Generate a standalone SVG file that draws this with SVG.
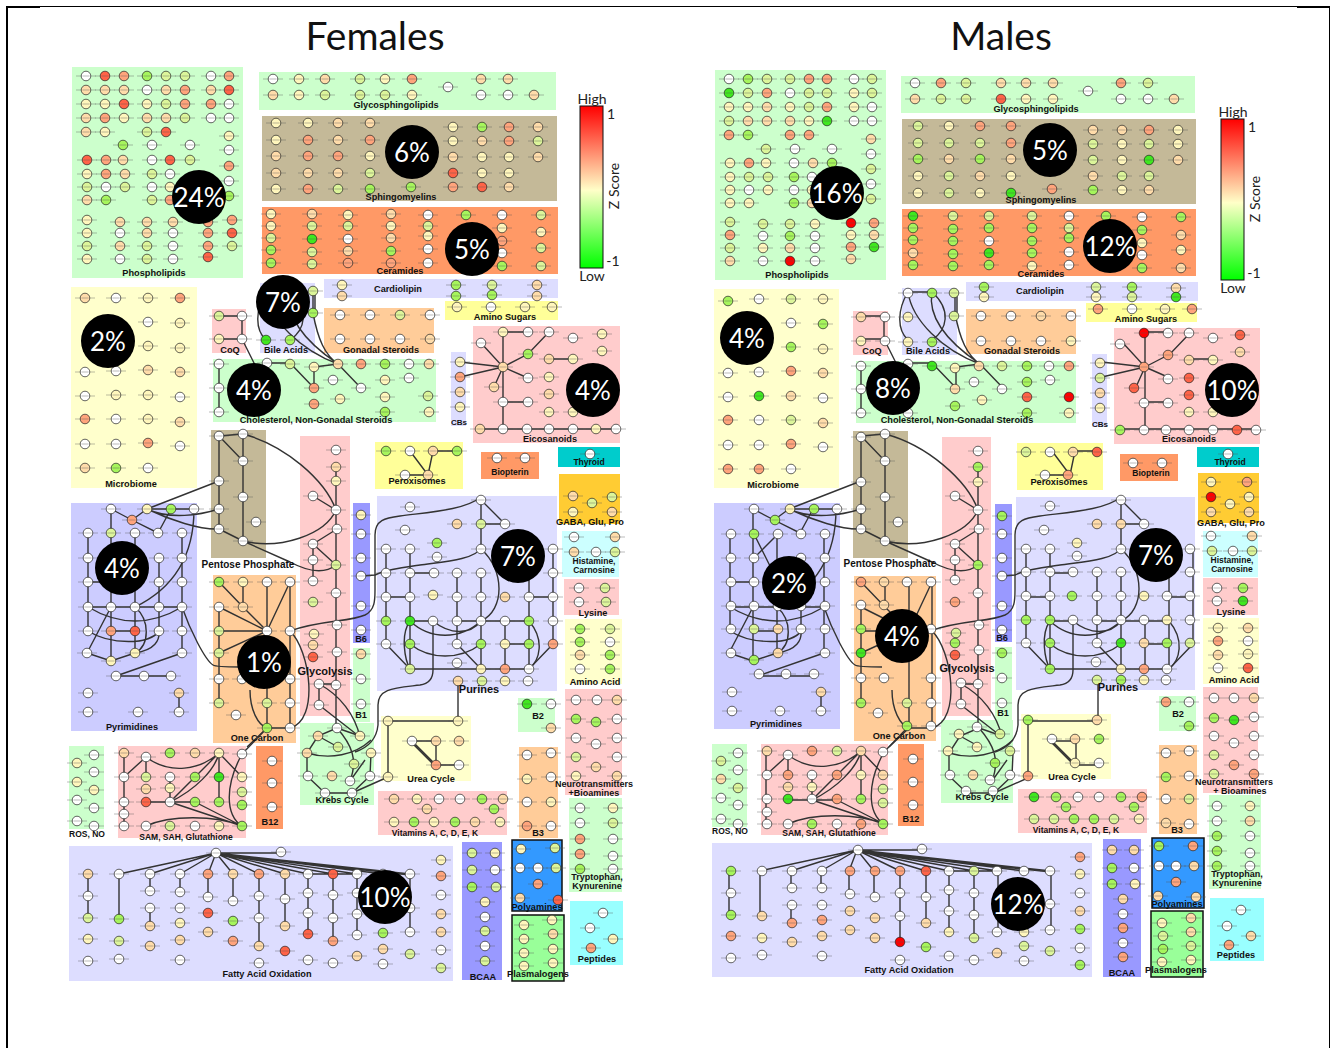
<svg xmlns="http://www.w3.org/2000/svg" width="1330" height="1048" viewBox="0 0 1330 1048">
<style>
text{font-family:"Liberation Sans",Arial,sans-serif;font-weight:bold;font-size:9.2px;fill:#111;text-anchor:middle}
.big{font-family:Lato,"Open Sans",sans-serif;font-weight:normal;font-size:39px}
.pc{font-family:Lato,"Open Sans",sans-serif;font-weight:normal;font-size:26px;fill:#fff}
.lg{font-family:Lato,"Open Sans",sans-serif;font-weight:normal;font-size:14px;fill:#222}
.m{font-size:11px}
.a{fill:#cfc}.b{fill:#c4b998}.c{fill:#f96}.d{fill:#ffc}.e{fill:#ddf}.f{fill:#ccf}.h{fill:#fcc}.i{fill:#fc9}.j{fill:#ff9}.k{fill:#99f}.l{fill:#0cc}.q{fill:#fc3}.s{fill:#cff}.t{fill:#9ff}
.u{fill:#39f;stroke:#111;stroke-width:1.5}.v{fill:#9f9;stroke:#111;stroke-width:1.5}
.w{fill:#fff}.y{fill:#fff6bc}.o{fill:#ffdcaa}.p{fill:#ffa47c}.r{fill:#ff6347}.R{fill:#f00}.g{fill:#dcf59a}.G{fill:#a6f55c}.L{fill:#3fe81f}
#n circle{stroke:#222;stroke-width:.7}
#n path{stroke:#555;stroke-width:.8;fill:none;opacity:.5}
.cn{fill:none;stroke:#333;stroke-width:1.4}
</style>
<defs>
<g id="n"><path d="M-10 0H10"/><circle r="4.8"/><path d="M-3.5 0H3.5"/></g>
<linearGradient id="zs" x1="0" y1="0" x2="0" y2="1"><stop offset="0" stop-color="#f00"/><stop offset=".52" stop-color="#ffffc8"/><stop offset="1" stop-color="#0f0"/></linearGradient>
</defs>
<rect width="1330" height="1048" fill="#fff"/>
<g id="frame" fill="#000"><rect x="6" y="6" width="2" height="1042"/><rect x="6" y="6" width="34" height="2"/><rect x="40" y="6" width="1257" height="1"/><rect x="1297" y="6" width="33" height="2"/><rect x="1329" y="6" width="1" height="1042"/></g>
<text class="big" x="375" y="50">Females</text>
<text class="big" x="1001" y="50">Males</text>

<g id="panels-f">
<rect class="a" x="72" y="67" width="171" height="211"/><rect class="a" x="259" y="72" width="297" height="38"/><rect class="b" x="262" y="116" width="295" height="85"/><rect class="c" x="262" y="207" width="296" height="67"/><rect class="e" x="324" y="279" width="234" height="19"/><rect class="j" x="445" y="301" width="113" height="19"/><rect class="e" x="260" y="283" width="55" height="70"/><rect class="i" x="324" y="308" width="110" height="45"/><rect class="h" x="212" y="309" width="34" height="44"/><rect class="a" x="213" y="359" width="223" height="63"/><rect class="e" x="451" y="352" width="15" height="74"/><rect class="h" x="473" y="326" width="147" height="117"/><rect class="d" x="71" y="287" width="126" height="201"/><rect class="b" x="211" y="430" width="55" height="128"/><rect class="h" x="300" y="436" width="50" height="280"/><rect class="j" x="375" y="442" width="88" height="47"/><rect class="c" x="481" y="452" width="58" height="27"/><rect class="l" x="558" y="447" width="62" height="20"/><rect class="q" x="559" y="474" width="61" height="50"/><rect class="s" x="562" y="531" width="57" height="46"/><rect class="h" x="564" y="579" width="55" height="36"/><rect class="d" x="565" y="619" width="57" height="65"/><rect class="h" x="565" y="689" width="57" height="106"/><rect class="f" x="71" y="503" width="126" height="228"/><rect class="k" x="353" y="503" width="17" height="140"/><rect class="a" x="353" y="648" width="17" height="74"/><rect class="i" x="213" y="575" width="83" height="168"/><rect class="e" x="377" y="496" width="180" height="195"/><rect class="a" x="518" y="698" width="37" height="34"/><rect class="i" x="519" y="747" width="39" height="91"/><rect class="d" x="381" y="716" width="90" height="65"/><rect class="a" x="300" y="723" width="74" height="82"/><rect class="h" x="378" y="791" width="129" height="44"/><rect class="a" x="69" y="746" width="35" height="83"/><rect class="h" x="118" y="746" width="128" height="92"/><rect class="c" x="256" y="746" width="27" height="83"/><rect class="a" x="569" y="798" width="53" height="94"/><rect class="e" x="69" y="846" width="384" height="135"/><rect class="k" x="462" y="842" width="40" height="138"/><rect class="u" x="512" y="840" width="50" height="71"/><rect class="v" x="512" y="915" width="52" height="66"/><rect class="t" x="570" y="901" width="53" height="64"/>
</g>
<g id="panels-m">
<rect class="a" x="715" y="70" width="171" height="210"/><rect class="a" x="901" y="76" width="294" height="37"/><rect class="b" x="902" y="119" width="294" height="85"/><rect class="c" x="902" y="209" width="294" height="67"/><rect class="e" x="966" y="282" width="232" height="19"/><rect class="j" x="1086" y="303" width="111" height="19"/><rect class="e" x="902" y="288" width="55" height="67"/><rect class="i" x="966" y="309" width="110" height="45"/><rect class="h" x="853" y="311" width="35" height="44"/><rect class="a" x="856" y="361" width="220" height="62"/><rect class="e" x="1092" y="354" width="15" height="73"/><rect class="h" x="1114" y="328" width="146" height="116"/><rect class="d" x="714" y="289" width="125" height="199"/><rect class="b" x="853" y="431" width="55" height="127"/><rect class="h" x="942" y="437" width="49" height="279"/><rect class="j" x="1017" y="443" width="86" height="47"/><rect class="c" x="1120" y="454" width="58" height="27"/><rect class="l" x="1197" y="447" width="62" height="20"/><rect class="q" x="1198" y="473" width="61" height="50"/><rect class="s" x="1203" y="531" width="55" height="46"/><rect class="h" x="1203" y="578" width="55" height="37"/><rect class="d" x="1203" y="618" width="56" height="66"/><rect class="h" x="1203" y="687" width="55" height="106"/><rect class="f" x="714" y="503" width="126" height="226"/><rect class="k" x="995" y="504" width="17" height="138"/><rect class="a" x="995" y="647" width="17" height="75"/><rect class="i" x="854" y="576" width="82" height="165"/><rect class="e" x="1016" y="497" width="179" height="193"/><rect class="a" x="1159" y="696" width="37" height="35"/><rect class="i" x="1159" y="745" width="38" height="89"/><rect class="d" x="1021" y="714" width="90" height="65"/><rect class="a" x="941" y="720" width="72" height="83"/><rect class="h" x="1018" y="789" width="129" height="44"/><rect class="a" x="712" y="744" width="35" height="83"/><rect class="h" x="761" y="744" width="127" height="91"/><rect class="c" x="898" y="744" width="26" height="82"/><rect class="a" x="1209" y="795" width="52" height="94"/><rect class="e" x="712" y="843" width="380" height="134"/><rect class="k" x="1103" y="839" width="38" height="138"/><rect class="u" x="1152" y="838" width="52" height="70"/><rect class="v" x="1151" y="911" width="52" height="66"/><rect class="t" x="1210" y="898" width="54" height="63"/>
</g>

<g id="connectors">
<g id="cA" class="cn">
<path d="M219 436L243 434M219 436V529M219 436L243 461M243 434V541M219 529L243 541"/>
<path d="M243 434C285 445 325 480 336 510M243 541C280 550 325 535 336 510M243 541L290 562Q320 578 336 565"/>
<path d="M336 467V685M313 496L336 510M337 529L313 544M313 544V581M313 544L336 565M319 684H336M319 684V705M336 685V728M319 684C340 695 355 715 360 737M319 705L360 737"/>
<path d="M219 582L243 607M243 582V607M219 607L267 631M243 607L267 631M267 582V728M290 582L267 631M290 582V728M219 631H267M219 653L267 631M219 607V703M267 728H290M290 631C310 650 320 720 290 728M250 690C250 710 258 725 267 728M267 728L247 747"/>
<path d="M337 728L318 736L307 753V776L325 793H352L370 776L371 753M350 781L365 760M337 728L360 736M318 736L338 747M307 753C330 760 355 755 371 740M337 728C352 745 358 760 350 781M352 793L388 777"/>
<path d="M111 509V533M111 509L132 520L158 533M147 509L132 520M147 509H194M171 509L158 533M88 533V631M111 533V661M135 533V653M159 558V631M182 533V653M88 582H111M88 607H182M111 631H135M87 653L111 607M87 653L111 661L135 653M116 676H171M116 676L182 653M179 693V712"/>
<path d="M88 607Q135 635 182 607M88 631C110 645 150 645 159 631M135 607C150 620 150 645 135 653M135 653C155 650 160 640 159 631M135 607C170 590 194 560 194 509M147 509L219 481M147 509C170 520 200 515 219 509M147 509C170 520 200 530 219 529M182 607C190 630 205 660 213 665Q216 667 240 667"/>
<path d="M266 292H290M266 292C255 310 255 330 266 340M290 292C310 310 305 330 290 340M313 291V313M315 291V313M266 292C270 320 300 350 338 364M290 292C285 320 310 345 338 364M313 313C318 340 325 355 338 364"/>
<path d="M219 316H242V339H219M242 339L255 365M219 364V412M267 363H290L314 388M314 367L338 364M314 367V388M338 364L361 388"/>
<path d="M503 332V429M503 332H528M481 343L503 367L528 354L549 332M503 367L528 378M503 367L494 387M460 362L503 367M460 377L503 367M549 359H573M503 402H528M480 429H616"/>
<path d="M410 451L428 475M433 451L428 475M405 475H428M433 451H457"/>
</g>
<g id="cP" class="cn">
<path d="M481 500V549M481 500L505 524M481 524H505M386 549V644M410 549V669M410 573H434M457 573V644M481 573V669M505 621V669M529 573V669M553 549V644M386 597H410M529 597H553M410 621H433M457 621H529M505 644H529M386 644L410 669M410 669H529M529 669L553 644M457 644L481 669"/>
<path d="M410 621C400 635 405 660 410 669M529 621C545 640 540 660 529 669M410 644C430 660 460 660 481 644M410 621C430 640 460 640 481 621M433 621C450 635 470 635 481 621M481 549C505 570 505 610 481 621"/>
<path d="M458 681V721M388 721H458M388 721V777M412 741H436M412 741L436 765M412 743L434 765M436 741V765M436 765H459"/>
<path d="M290 631C320 620 350 622 365 615C375 610 375 600 375 590V535C375 520 385 518 400 516C430 512 465 510 481 497"/>
<path d="M481 548C475 560 440 562 420 565C400 568 385 570 375 575L361 576"/>
<path d="M433 622V670Q433 683 420 685C395 688 378 688 378 705V725Q376 745 355 752"/>
</g>
<g id="cS" class="cn">
<path d="M124 753V826M124 777L146 757V777M146 757C170 775 200 770 219 753L170 802M219 753C215 770 195 790 170 802M219 753V802M219 753L242 777M195 777L170 802M170 777V802M146 802H195M170 802L242 826M195 802L242 826M146 826C170 815 215 815 242 826M242 754C225 785 225 815 242 826M242 754L267 728"/>
</g>
<g id="cF" class="cn">
<path d="M216 853H281M216 853L119 874M216 853L150 874M216 853L180 874M216 853L208 874M216 853L233 874M216 853L259 874M216 853L285 874M216 853L308 874M216 853L333 874M216 853L357 874M216 853L383 874M216 853L410 874M216 854L410 875M88 874V918M119 874V919M150 874V891M150 908V926M180 874V892M208 874V897M233 874V901M259 874V946M285 874V926M308 874V934M333 874V941M308 874H357M357 874V935M410 874V932"/>
</g>
<use href="#cA" x="642"/><use href="#cP" x="640"/><use href="#cS" x="642" y="-2"/><use href="#cF" x="641" y="-3"/>
<path class="cn" d="M754 534L778 582M778 534L754 558"/>
</g>

<g id="f-phospholipids">
<use href="#n" x="86" y="76" class="w"/><use href="#n" x="105" y="76" class="r"/><use href="#n" x="124" y="76" class="p"/><use href="#n" x="147" y="76" class="G"/><use href="#n" x="166" y="76" class="g"/><use href="#n" x="185" y="76" class="g"/><use href="#n" x="211" y="76" class="w"/><use href="#n" x="229" y="76" class="p"/>
<use href="#n" x="86" y="90" class="o"/><use href="#n" x="105" y="90" class="o"/><use href="#n" x="124" y="90" class="o"/><use href="#n" x="147" y="90" class="w"/><use href="#n" x="166" y="90" class="o"/><use href="#n" x="185" y="90" class="p"/><use href="#n" x="211" y="90" class="o"/><use href="#n" x="229" y="90" class="r"/>
<use href="#n" x="86" y="104" class="y"/><use href="#n" x="105" y="104" class="y"/><use href="#n" x="124" y="104" class="r"/><use href="#n" x="147" y="104" class="y"/><use href="#n" x="166" y="104" class="g"/><use href="#n" x="185" y="104" class="p"/><use href="#n" x="211" y="104" class="p"/><use href="#n" x="229" y="104" class="w"/>
<use href="#n" x="86" y="118" class="o"/><use href="#n" x="105" y="118" class="p"/><use href="#n" x="124" y="118" class="y"/><use href="#n" x="147" y="118" class="o"/><use href="#n" x="166" y="118" class="o"/><use href="#n" x="185" y="118" class="g"/><use href="#n" x="211" y="118" class="w"/><use href="#n" x="229" y="118" class="w"/>
<use href="#n" x="86" y="132" class="o"/><use href="#n" x="105" y="132" class="y"/><use href="#n" x="147" y="132" class="g"/><use href="#n" x="166" y="132" class="r"/>
<use href="#n" x="123" y="145" class="G"/><use href="#n" x="152" y="145" class="w"/><use href="#n" x="190" y="145" class="w"/><use href="#n" x="229" y="136" class="y"/><use href="#n" x="229" y="150" class="w"/><use href="#n" x="229" y="166" class="p"/><use href="#n" x="229" y="181" class="w"/><use href="#n" x="229" y="196" class="G"/>
<use href="#n" x="87" y="160" class="r"/><use href="#n" x="106" y="160" class="p"/><use href="#n" x="123" y="160" class="o"/><use href="#n" x="152" y="160" class="w"/><use href="#n" x="170" y="160" class="r"/><use href="#n" x="190" y="160" class="g"/>
<use href="#n" x="87" y="174" class="y"/><use href="#n" x="106" y="174" class="p"/><use href="#n" x="125" y="174" class="o"/><use href="#n" x="152" y="174" class="g"/><use href="#n" x="170" y="174" class="w"/>
<use href="#n" x="87" y="187" class="g"/><use href="#n" x="106" y="187" class="w"/><use href="#n" x="125" y="187" class="g"/><use href="#n" x="152" y="187" class="w"/><use href="#n" x="170" y="187" class="y"/>
<use href="#n" x="87" y="200" class="o"/><use href="#n" x="106" y="200" class="G"/><use href="#n" x="152" y="200" class="g"/><use href="#n" x="170" y="200" class="p"/>
<use href="#n" x="87" y="220" class="y"/><use href="#n" x="120" y="222" class="o"/><use href="#n" x="147" y="222" class="o"/><use href="#n" x="173" y="222" class="o"/><use href="#n" x="208" y="222" class="p"/><use href="#n" x="232" y="220" class="p"/>
<use href="#n" x="87" y="233" class="y"/><use href="#n" x="120" y="233" class="w"/><use href="#n" x="147" y="233" class="o"/><use href="#n" x="173" y="233" class="w"/><use href="#n" x="208" y="233" class="p"/><use href="#n" x="232" y="233" class="r"/>
<use href="#n" x="87" y="246" class="g"/><use href="#n" x="120" y="246" class="o"/><use href="#n" x="147" y="246" class="g"/><use href="#n" x="173" y="246" class="w"/><use href="#n" x="208" y="246" class="p"/><use href="#n" x="232" y="246" class="g"/>
<use href="#n" x="87" y="259" class="y"/><use href="#n" x="120" y="259" class="w"/><use href="#n" x="147" y="259" class="g"/><use href="#n" x="173" y="259" class="w"/><use href="#n" x="208" y="257" class="r"/>
<text x="154" y="276">Phospholipids</text>
</g>
<g id="f-glyco">
<use href="#n" x="273" y="79" class="w"/><use href="#n" x="299" y="79" class="y"/><use href="#n" x="325" y="79" class="o"/><use href="#n" x="360" y="79" class="g"/><use href="#n" x="385" y="79" class="y"/><use href="#n" x="412" y="79" class="p"/><use href="#n" x="448" y="87" class="w"/><use href="#n" x="481" y="79" class="o"/><use href="#n" x="508" y="79" class="o"/>
<use href="#n" x="273" y="95" class="o"/><use href="#n" x="299" y="95" class="y"/><use href="#n" x="325" y="95" class="g"/><use href="#n" x="360" y="95" class="g"/><use href="#n" x="385" y="95" class="g"/><use href="#n" x="412" y="95" class="y"/><use href="#n" x="481" y="95" class="w"/><use href="#n" x="508" y="95" class="w"/><use href="#n" x="534" y="95" class="o"/>
<text x="396" y="108">Glycosphingolipids</text>
</g>
<g id="f-sphingo">
<use href="#n" x="276" y="123" class="y"/><use href="#n" x="308" y="123" class="y"/><use href="#n" x="338" y="123" class="o"/><use href="#n" x="370" y="123" class="o"/><use href="#n" x="276" y="140" class="y"/><use href="#n" x="308" y="140" class="p"/><use href="#n" x="338" y="140" class="o"/><use href="#n" x="370" y="140" class="p"/><use href="#n" x="276" y="156" class="o"/><use href="#n" x="308" y="156" class="p"/><use href="#n" x="338" y="156" class="p"/><use href="#n" x="370" y="156" class="y"/><use href="#n" x="276" y="173" class="o"/><use href="#n" x="308" y="173" class="o"/><use href="#n" x="338" y="173" class="o"/><use href="#n" x="370" y="173" class="g"/><use href="#n" x="276" y="189" class="y"/><use href="#n" x="308" y="189" class="p"/><use href="#n" x="338" y="189" class="g"/><use href="#n" x="370" y="189" class="G"/><use href="#n" x="411" y="187" class="G"/>
<use href="#n" x="453" y="127" class="y"/><use href="#n" x="482" y="127" class="G"/><use href="#n" x="509" y="127" class="p"/><use href="#n" x="538" y="127" class="o"/><use href="#n" x="453" y="141" class="y"/><use href="#n" x="482" y="141" class="o"/><use href="#n" x="509" y="141" class="p"/><use href="#n" x="538" y="141" class="g"/><use href="#n" x="453" y="157" class="o"/><use href="#n" x="482" y="157" class="y"/><use href="#n" x="509" y="157" class="y"/><use href="#n" x="538" y="157" class="o"/><use href="#n" x="453" y="173" class="r"/><use href="#n" x="482" y="173" class="y"/><use href="#n" x="509" y="173" class="y"/><use href="#n" x="453" y="187" class="p"/><use href="#n" x="482" y="187" class="r"/><use href="#n" x="509" y="187" class="o"/>
<text x="401" y="200">Sphingomyelins</text>
</g>
<g id="f-ceramides">
<use href="#n" x="271" y="214" class="y"/><use href="#n" x="271" y="226" class="y"/><use href="#n" x="271" y="238" class="g"/><use href="#n" x="271" y="250" class="G"/><use href="#n" x="271" y="263" class="G"/><use href="#n" x="312" y="214" class="o"/><use href="#n" x="312" y="226" class="g"/><use href="#n" x="312" y="239" class="L"/><use href="#n" x="312" y="252" class="g"/><use href="#n" x="312" y="264" class="g"/><use href="#n" x="348" y="215" class="y"/><use href="#n" x="348" y="226" class="g"/><use href="#n" x="348" y="239" class="w"/><use href="#n" x="348" y="251" class="o"/><use href="#n" x="348" y="263" class="p"/><use href="#n" x="391" y="214" class="o"/><use href="#n" x="391" y="226" class="y"/><use href="#n" x="391" y="238" class="o"/><use href="#n" x="391" y="251" class="G"/><use href="#n" x="391" y="263" class="p"/><use href="#n" x="428" y="215" class="w"/><use href="#n" x="428" y="226" class="g"/><use href="#n" x="428" y="236" class="y"/><use href="#n" x="428" y="249" class="w"/><use href="#n" x="428" y="263" class="w"/><use href="#n" x="466" y="215" class="G"/><use href="#n" x="502" y="215" class="w"/><use href="#n" x="502" y="228" class="y"/><use href="#n" x="502" y="241" class="p"/><use href="#n" x="502" y="253" class="w"/><use href="#n" x="502" y="266" class="G"/><use href="#n" x="541" y="215" class="g"/><use href="#n" x="541" y="232" class="y"/><use href="#n" x="541" y="248" class="g"/><use href="#n" x="541" y="266" class="g"/>
<text x="400" y="274">Ceramides</text>
</g>
<g id="f-microbiome">
<use href="#n" x="85" y="298" class="o"/><use href="#n" x="116" y="298" class="w"/><use href="#n" x="148" y="298" class="y"/><use href="#n" x="180" y="298" class="p"/><use href="#n" x="148" y="322" class="w"/><use href="#n" x="180" y="323" class="y"/><use href="#n" x="148" y="346" class="y"/><use href="#n" x="180" y="348" class="y"/><use href="#n" x="85" y="372" class="w"/><use href="#n" x="116" y="371" class="w"/><use href="#n" x="148" y="370" class="o"/><use href="#n" x="180" y="372" class="o"/><use href="#n" x="85" y="396" class="w"/><use href="#n" x="116" y="395" class="y"/><use href="#n" x="148" y="395" class="y"/><use href="#n" x="180" y="397" class="w"/><use href="#n" x="85" y="419" class="p"/><use href="#n" x="116" y="419" class="w"/><use href="#n" x="148" y="419" class="y"/><use href="#n" x="180" y="422" class="o"/><use href="#n" x="85" y="444" class="w"/><use href="#n" x="116" y="444" class="w"/><use href="#n" x="148" y="443" class="p"/><use href="#n" x="180" y="446" class="w"/><use href="#n" x="85" y="468" class="o"/><use href="#n" x="116" y="468" class="G"/><use href="#n" x="148" y="468" class="w"/>
<text x="131" y="487">Microbiome</text>
</g>
<g id="f-pentose">
<use href="#n" x="219" y="436" class="w"/><use href="#n" x="243" y="434" class="w"/><use href="#n" x="243" y="461" class="w"/><use href="#n" x="219" y="481" class="w"/><use href="#n" x="243" y="497" class="w"/><use href="#n" x="219" y="509" class="w"/><use href="#n" x="219" y="529" class="w"/><use href="#n" x="256" y="522" class="w"/><use href="#n" x="243" y="541" class="w"/>
<text x="248" y="568" style="font-size:10px">Pentose Phosphate</text>
</g>
<g id="f-glycolysis">
<use href="#n" x="336" y="450" class="w"/><use href="#n" x="336" y="467" class="o"/><use href="#n" x="336" y="481" class="y"/><use href="#n" x="313" y="496" class="w"/><use href="#n" x="336" y="510" class="w"/><use href="#n" x="337" y="529" class="w"/><use href="#n" x="313" y="544" class="w"/><use href="#n" x="313" y="560" class="w"/><use href="#n" x="336" y="565" class="g"/><use href="#n" x="313" y="581" class="w"/><use href="#n" x="313" y="602" class="g"/><use href="#n" x="336" y="593" class="w"/><use href="#n" x="337" y="625" class="w"/><use href="#n" x="314" y="634" class="y"/><use href="#n" x="313" y="645" class="o"/><use href="#n" x="313" y="657" class="r"/><use href="#n" x="337" y="652" class="w"/><use href="#n" x="319" y="684" class="w"/><use href="#n" x="336" y="685" class="w"/><use href="#n" x="319" y="705" class="w"/>
<text class="m" x="325" y="675">Glycolysis</text>
</g>
<g id="f-b6"><use href="#n" x="361" y="515" class="y"/><use href="#n" x="361" y="534" class="w"/><use href="#n" x="361" y="558" class="w"/><use href="#n" x="361" y="576" class="w"/><use href="#n" x="361" y="606" class="w"/><use href="#n" x="361" y="630" class="w"/><text x="361" y="642">B6</text></g>
<g id="f-b1"><use href="#n" x="361" y="654" class="o"/><use href="#n" x="361" y="679" class="w"/><use href="#n" x="361" y="704" class="w"/><text x="361" y="718">B1</text></g>
<g id="f-onecarbon">
<use href="#n" x="219" y="582" class="G"/><use href="#n" x="243" y="582" class="y"/><use href="#n" x="267" y="582" class="w"/><use href="#n" x="290" y="582" class="w"/><use href="#n" x="219" y="607" class="w"/><use href="#n" x="243" y="607" class="o"/><use href="#n" x="219" y="631" class="g"/><use href="#n" x="267" y="631" class="w"/><use href="#n" x="290" y="631" class="w"/><use href="#n" x="219" y="653" class="g"/><use href="#n" x="219" y="679" class="w"/><use href="#n" x="242" y="679" class="w"/><use href="#n" x="290" y="679" class="w"/><use href="#n" x="219" y="703" class="g"/><use href="#n" x="267" y="703" class="g"/><use href="#n" x="290" y="703" class="w"/><use href="#n" x="236" y="715" class="w"/><use href="#n" x="267" y="728" class="G"/><use href="#n" x="290" y="728" class="w"/>
<text x="257" y="741">One Carbon</text>
</g>
<g id="f-krebs">
<use href="#n" x="337" y="728" class="w"/><use href="#n" x="318" y="736" class="o"/><use href="#n" x="338" y="747" class="g"/><use href="#n" x="360" y="736" class="y"/><use href="#n" x="307" y="753" class="o"/><use href="#n" x="371" y="753" class="y"/><use href="#n" x="308" y="776" class="w"/><use href="#n" x="332" y="776" class="o"/><use href="#n" x="354" y="764" class="g"/><use href="#n" x="370" y="776" class="w"/><use href="#n" x="350" y="781" class="w"/><use href="#n" x="325" y="793" class="w"/><use href="#n" x="352" y="793" class="w"/>
<text x="342" y="803">Krebs Cycle</text>
</g>
<g id="f-urea">
<use href="#n" x="388" y="721" class="y"/><use href="#n" x="458" y="721" class="y"/><use href="#n" x="412" y="741" class="w"/><use href="#n" x="436" y="741" class="o"/><use href="#n" x="459" y="741" class="o"/><use href="#n" x="436" y="765" class="p"/><use href="#n" x="459" y="765" class="w"/><use href="#n" x="388" y="777" class="y"/>
<text x="431" y="782">Urea Cycle</text>
</g>
<g id="f-purines">
<use href="#n" x="481" y="500" class="w"/><use href="#n" x="410" y="507" class="w"/><use href="#n" x="405" y="530" class="w"/><use href="#n" x="457" y="524" class="o"/><use href="#n" x="481" y="524" class="g"/><use href="#n" x="505" y="524" class="w"/><use href="#n" x="437" y="543" class="G"/><use href="#n" x="437" y="557" class="w"/><use href="#n" x="386" y="549" class="w"/><use href="#n" x="410" y="549" class="w"/><use href="#n" x="481" y="549" class="w"/><use href="#n" x="553" y="549" class="w"/>
<use href="#n" x="386" y="573" class="w"/><use href="#n" x="410" y="573" class="w"/><use href="#n" x="434" y="573" class="w"/><use href="#n" x="457" y="573" class="w"/><use href="#n" x="481" y="573" class="w"/><use href="#n" x="553" y="573" class="w"/>
<use href="#n" x="386" y="597" class="w"/><use href="#n" x="410" y="597" class="w"/><use href="#n" x="433" y="595" class="y"/><use href="#n" x="457" y="597" class="w"/><use href="#n" x="481" y="597" class="w"/><use href="#n" x="505" y="597" class="o"/><use href="#n" x="529" y="597" class="w"/><use href="#n" x="553" y="597" class="w"/>
<use href="#n" x="386" y="621" class="G"/><use href="#n" x="410" y="621" class="L"/><use href="#n" x="433" y="621" class="w"/><use href="#n" x="457" y="621" class="w"/><use href="#n" x="481" y="621" class="w"/><use href="#n" x="505" y="621" class="w"/><use href="#n" x="529" y="621" class="G"/><use href="#n" x="553" y="621" class="w"/>
<use href="#n" x="386" y="644" class="w"/><use href="#n" x="410" y="644" class="G"/><use href="#n" x="457" y="644" class="w"/><use href="#n" x="481" y="644" class="G"/><use href="#n" x="505" y="644" class="y"/><use href="#n" x="529" y="644" class="G"/><use href="#n" x="553" y="644" class="p"/>
<use href="#n" x="457" y="663" class="w"/><use href="#n" x="410" y="669" class="g"/><use href="#n" x="481" y="669" class="y"/><use href="#n" x="505" y="669" class="p"/><use href="#n" x="529" y="669" class="w"/><use href="#n" x="458" y="681" class="o"/><use href="#n" x="482" y="681" class="g"/><use href="#n" x="505" y="681" class="y"/><use href="#n" x="528" y="681" class="w"/>
<text class="m" x="479" y="693">Purines</text>
</g>
<g id="f-pyrimidines">
<use href="#n" x="111" y="509" class="w"/><use href="#n" x="147" y="509" class="y"/><use href="#n" x="171" y="509" class="G"/><use href="#n" x="194" y="509" class="w"/><use href="#n" x="132" y="520" class="p"/><use href="#n" x="158" y="533" class="w"/><use href="#n" x="111" y="533" class="g"/><use href="#n" x="135" y="533" class="w"/><use href="#n" x="88" y="533" class="w"/><use href="#n" x="182" y="533" class="w"/><use href="#n" x="88" y="558" class="w"/><use href="#n" x="159" y="558" class="w"/><use href="#n" x="182" y="558" class="w"/><use href="#n" x="88" y="582" class="w"/><use href="#n" x="111" y="582" class="w"/><use href="#n" x="159" y="582" class="w"/><use href="#n" x="182" y="582" class="w"/><use href="#n" x="88" y="607" class="w"/><use href="#n" x="111" y="607" class="w"/><use href="#n" x="135" y="607" class="w"/><use href="#n" x="159" y="607" class="w"/><use href="#n" x="182" y="607" class="w"/><use href="#n" x="88" y="631" class="w"/><use href="#n" x="111" y="631" class="p"/><use href="#n" x="135" y="631" class="r"/><use href="#n" x="159" y="631" class="w"/><use href="#n" x="182" y="631" class="w"/><use href="#n" x="87" y="653" class="w"/><use href="#n" x="135" y="653" class="y"/><use href="#n" x="111" y="661" class="y"/><use href="#n" x="182" y="653" class="w"/><use href="#n" x="116" y="676" class="w"/><use href="#n" x="144" y="676" class="w"/><use href="#n" x="171" y="676" class="w"/><use href="#n" x="88" y="693" class="w"/><use href="#n" x="179" y="693" class="o"/><use href="#n" x="88" y="712" class="w"/><use href="#n" x="138" y="712" class="w"/><use href="#n" x="179" y="712" class="w"/>
<text x="132" y="730">Pyrimidines</text>
</g>
<g id="f-small-top">
<use href="#n" x="342" y="285" class="y"/><use href="#n" x="342" y="296" class="o"/><use href="#n" x="456" y="285" class="G"/><use href="#n" x="456" y="296" class="G"/><use href="#n" x="492" y="285" class="g"/><use href="#n" x="492" y="295" class="G"/><use href="#n" x="537" y="285" class="o"/><use href="#n" x="537" y="296" class="o"/><text x="398" y="292">Cardiolipin</text>
<use href="#n" x="457" y="307" class="y"/><use href="#n" x="491" y="307" class="w"/><use href="#n" x="525" y="307" class="y"/><use href="#n" x="552" y="307" class="y"/><text x="505" y="320">Amino Sugars</text>
<use href="#n" x="313" y="291" class="g"/><use href="#n" x="313" y="313" class="G"/><use href="#n" x="266" y="340" class="L"/><use href="#n" x="290" y="340" class="G"/><text x="286" y="353">Bile Acids</text>
<use href="#n" x="340" y="315" class="w"/><use href="#n" x="370" y="315" class="w"/><use href="#n" x="400" y="315" class="g"/><use href="#n" x="430" y="315" class="w"/><use href="#n" x="340" y="339" class="w"/><use href="#n" x="370" y="339" class="w"/><use href="#n" x="400" y="339" class="w"/><use href="#n" x="430" y="339" class="o"/><text x="381" y="353">Gonadal Steroids</text>
<use href="#n" x="219" y="316" class="g"/><use href="#n" x="242" y="316" class="w"/><use href="#n" x="219" y="339" class="y"/><use href="#n" x="242" y="339" class="w"/><text x="230" y="353">CoQ</text>
</g>
<g id="f-cholesterol">
<use href="#n" x="219" y="364" class="w"/><use href="#n" x="219" y="388" class="w"/><use href="#n" x="219" y="412" class="w"/><use href="#n" x="267" y="363" class="w"/><use href="#n" x="290" y="364" class="g"/><use href="#n" x="314" y="367" class="y"/><use href="#n" x="338" y="364" class="o"/><use href="#n" x="361" y="364" class="p"/><use href="#n" x="385" y="364" class="G"/><use href="#n" x="409" y="364" class="w"/><use href="#n" x="429" y="364" class="o"/><use href="#n" x="333" y="380" class="w"/><use href="#n" x="314" y="388" class="p"/><use href="#n" x="361" y="388" class="w"/><use href="#n" x="385" y="380" class="y"/><use href="#n" x="409" y="378" class="w"/><use href="#n" x="385" y="397" class="y"/><use href="#n" x="428" y="396" class="g"/><use href="#n" x="340" y="399" class="y"/><use href="#n" x="314" y="404" class="p"/><use href="#n" x="385" y="412" class="G"/><use href="#n" x="429" y="412" class="y"/>
<text x="316" y="423">Cholesterol, Non-Gonadal Steroids</text>
</g>
<g id="f-cbs"><use href="#n" x="460" y="362" class="y"/><use href="#n" x="460" y="377" class="p"/><use href="#n" x="460" y="392" class="o"/><use href="#n" x="460" y="407" class="y"/><text x="459" y="425" style="font-size:8px">CBs</text></g>
<g id="f-eicosanoids">
<use href="#n" x="503" y="367" class="o"/><use href="#n" x="503" y="332" class="y"/><use href="#n" x="528" y="332" class="w"/><use href="#n" x="549" y="332" class="w"/><use href="#n" x="573" y="338" class="w"/><use href="#n" x="602" y="334" class="y"/><use href="#n" x="481" y="343" class="w"/><use href="#n" x="528" y="354" class="G"/><use href="#n" x="549" y="359" class="o"/><use href="#n" x="573" y="359" class="y"/><use href="#n" x="602" y="351" class="y"/><use href="#n" x="549" y="377" class="y"/><use href="#n" x="528" y="378" class="w"/><use href="#n" x="494" y="387" class="o"/><use href="#n" x="549" y="394" class="o"/><use href="#n" x="549" y="412" class="y"/><use href="#n" x="573" y="412" class="y"/><use href="#n" x="503" y="402" class="w"/><use href="#n" x="528" y="402" class="w"/><use href="#n" x="480" y="429" class="o"/><use href="#n" x="503" y="429" class="w"/><use href="#n" x="527" y="429" class="w"/><use href="#n" x="549" y="429" class="w"/><use href="#n" x="573" y="429" class="w"/><use href="#n" x="596" y="429" class="y"/><use href="#n" x="616" y="429" class="w"/>
<text x="550" y="442">Eicosanoids</text>
</g>
<g id="f-right">
<use href="#n" x="386" y="451" class="G"/><use href="#n" x="410" y="451" class="w"/><use href="#n" x="433" y="451" class="o"/><use href="#n" x="457" y="451" class="G"/><use href="#n" x="405" y="475" class="w"/><use href="#n" x="428" y="475" class="o"/><text x="417" y="484">Peroxisomes</text>
<use href="#n" x="497" y="458" class="w"/><use href="#n" x="525" y="458" class="w"/><text x="510" y="475" style="font-size:8.5px">Biopterin</text>
<use href="#n" x="590" y="454" class="w"/><text x="589" y="465" style="font-size:8.5px">Thyroid</text>
<use href="#n" x="573" y="496" class="o"/><use href="#n" x="612" y="497" class="g"/><use href="#n" x="592" y="503" class="g"/><use href="#n" x="573" y="512" class="y"/><use href="#n" x="612" y="512" class="o"/><text x="590" y="525">GABA, Glu, Pro</text>
<use href="#n" x="574" y="537" class="w"/><use href="#n" x="615" y="537" class="o"/><use href="#n" x="574" y="552" class="o"/><use href="#n" x="596" y="552" class="w"/><use href="#n" x="615" y="552" class="g"/><text x="594" y="564" style="font-size:8.5px">Histamine,</text><text x="594" y="573" style="font-size:8.5px">Carnosine</text>
<use href="#n" x="579" y="588" class="w"/><use href="#n" x="605" y="588" class="g"/><use href="#n" x="579" y="602" class="w"/><use href="#n" x="606" y="602" class="g"/><text x="593" y="616">Lysine</text>
<use href="#n" x="580" y="629" class="G"/><use href="#n" x="580" y="642" class="G"/><use href="#n" x="580" y="655" class="o"/><use href="#n" x="580" y="669" class="w"/><use href="#n" x="610" y="629" class="g"/><use href="#n" x="610" y="642" class="w"/><use href="#n" x="610" y="655" class="G"/><use href="#n" x="610" y="669" class="G"/><text x="595" y="685">Amino Acid</text>
<use href="#n" x="576" y="700" class="w"/><use href="#n" x="597" y="700" class="w"/><use href="#n" x="617" y="700" class="o"/><use href="#n" x="576" y="719" class="G"/><use href="#n" x="596" y="722" class="G"/><use href="#n" x="617" y="719" class="w"/><use href="#n" x="576" y="738" class="w"/><use href="#n" x="617" y="738" class="w"/><use href="#n" x="596" y="744" class="w"/><use href="#n" x="576" y="757" class="g"/><use href="#n" x="617" y="757" class="w"/><use href="#n" x="596" y="767" class="o"/><use href="#n" x="576" y="776" class="y"/><use href="#n" x="617" y="776" class="o"/><text x="594" y="787" style="font-size:9px">Neurotransmitters</text><text x="594" y="796" style="font-size:9px">+Bioamines</text>
<use href="#n" x="527" y="704" class="L"/><use href="#n" x="551" y="704" class="w"/><use href="#n" x="551" y="728" class="o"/><text x="538" y="719">B2</text>
<use href="#n" x="527" y="755" class="w"/><use href="#n" x="551" y="753" class="w"/><use href="#n" x="527" y="779" class="y"/><use href="#n" x="551" y="777" class="w"/><use href="#n" x="527" y="802" class="w"/><use href="#n" x="551" y="802" class="y"/><use href="#n" x="527" y="826" class="p"/><use href="#n" x="551" y="826" class="w"/><text x="538" y="836">B3</text>
<use href="#n" x="394" y="799" class="o"/><use href="#n" x="417" y="799" class="y"/><use href="#n" x="439" y="799" class="w"/><use href="#n" x="460" y="799" class="w"/><use href="#n" x="482" y="799" class="G"/><use href="#n" x="503" y="799" class="o"/><use href="#n" x="427" y="809" class="o"/><use href="#n" x="494" y="809" class="G"/><use href="#n" x="394" y="822" class="y"/><use href="#n" x="414" y="822" class="G"/><use href="#n" x="434" y="822" class="y"/><use href="#n" x="455" y="822" class="G"/><use href="#n" x="475" y="822" class="o"/><use href="#n" x="500" y="822" class="y"/><text x="435" y="836" style="font-size:8.5px">Vitamins A, C, D, E, K</text>
<use href="#n" x="580" y="808" class="w"/><use href="#n" x="613" y="808" class="y"/><use href="#n" x="580" y="823" class="w"/><use href="#n" x="613" y="823" class="g"/><use href="#n" x="580" y="839" class="p"/><use href="#n" x="613" y="839" class="w"/><use href="#n" x="580" y="854" class="p"/><use href="#n" x="613" y="856" class="w"/><use href="#n" x="580" y="869" class="G"/><use href="#n" x="613" y="869" class="w"/><text x="597" y="880" style="font-size:9px">Tryptophan,</text><text x="597" y="889" style="font-size:9px">Kynurenine</text>
<use href="#n" x="472" y="853" class="g"/><use href="#n" x="495" y="853" class="y"/><use href="#n" x="472" y="870" class="g"/><use href="#n" x="495" y="870" class="w"/><use href="#n" x="472" y="887" class="G"/><use href="#n" x="496" y="887" class="g"/><use href="#n" x="485" y="902" class="y"/><use href="#n" x="485" y="917" class="w"/><use href="#n" x="485" y="931" class="g"/><use href="#n" x="485" y="946" class="w"/><use href="#n" x="485" y="961" class="g"/><text x="483" y="980">BCAA</text>
<use href="#n" x="521" y="849" class="y"/><use href="#n" x="555" y="848" class="g"/><use href="#n" x="520" y="868" class="w"/><use href="#n" x="538" y="868" class="w"/><use href="#n" x="556" y="868" class="g"/><use href="#n" x="538" y="884" class="p"/><use href="#n" x="520" y="898" class="o"/><use href="#n" x="558" y="900" class="r"/><text x="537" y="910">Polyamines</text>
<use href="#n" x="524" y="925" class="y"/><use href="#n" x="552" y="920" class="y"/><use href="#n" x="524" y="939" class="y"/><use href="#n" x="553" y="934" class="o"/><use href="#n" x="524" y="953" class="y"/><use href="#n" x="553" y="949" class="y"/><use href="#n" x="524" y="966" class="y"/><use href="#n" x="553" y="963" class="y"/><text x="538" y="977">Plasmalogens</text>
<use href="#n" x="603" y="913" class="w"/><use href="#n" x="590" y="928" class="w"/><use href="#n" x="613" y="939" class="y"/><use href="#n" x="591" y="948" class="p"/><text x="597" y="962">Peptides</text>
</g>
<g id="f-bottom-left">
<use href="#n" x="94" y="755" class="w"/><use href="#n" x="77" y="763" class="y"/><use href="#n" x="94" y="772" class="w"/><use href="#n" x="77" y="782" class="y"/><use href="#n" x="94" y="790" class="y"/><use href="#n" x="77" y="800" class="w"/><use href="#n" x="94" y="808" class="w"/><use href="#n" x="77" y="821" class="w"/><use href="#n" x="94" y="826" class="w"/><text x="87" y="837" style="font-size:8.5px">ROS, NO</text>
<use href="#n" x="124" y="753" class="o"/><use href="#n" x="146" y="757" class="w"/><use href="#n" x="170" y="753" class="G"/><use href="#n" x="195" y="753" class="o"/><use href="#n" x="219" y="753" class="y"/><use href="#n" x="242" y="754" class="w"/><use href="#n" x="124" y="777" class="w"/><use href="#n" x="146" y="777" class="g"/><use href="#n" x="170" y="777" class="w"/><use href="#n" x="195" y="777" class="G"/><use href="#n" x="219" y="777" class="L"/><use href="#n" x="242" y="777" class="y"/><use href="#n" x="146" y="789" class="o"/><use href="#n" x="170" y="788" class="y"/><use href="#n" x="242" y="792" class="g"/><use href="#n" x="124" y="802" class="w"/><use href="#n" x="146" y="802" class="r"/><use href="#n" x="170" y="802" class="w"/><use href="#n" x="195" y="802" class="G"/><use href="#n" x="219" y="802" class="G"/><use href="#n" x="242" y="805" class="G"/><use href="#n" x="124" y="814" class="w"/><use href="#n" x="124" y="826" class="w"/><use href="#n" x="146" y="826" class="w"/><use href="#n" x="170" y="826" class="g"/><use href="#n" x="195" y="826" class="w"/><use href="#n" x="219" y="826" class="y"/><use href="#n" x="242" y="826" class="G"/><text x="186" y="840" style="font-size:8.5px">SAM, SAH, Glutathione</text>
<use href="#n" x="272" y="761" class="w"/><use href="#n" x="272" y="783" class="w"/><use href="#n" x="272" y="807" class="w"/><text x="270" y="825">B12</text>
</g>
<g id="f-fatty-acid">
<use href="#n" x="216" y="853" class="w"/><use href="#n" x="281" y="852" class="w"/><use href="#n" x="88" y="874" class="o"/><use href="#n" x="119" y="874" class="w"/><use href="#n" x="150" y="874" class="w"/><use href="#n" x="180" y="874" class="w"/><use href="#n" x="208" y="874" class="p"/><use href="#n" x="233" y="874" class="o"/><use href="#n" x="259" y="874" class="p"/><use href="#n" x="285" y="874" class="o"/><use href="#n" x="308" y="874" class="w"/><use href="#n" x="333" y="874" class="r"/><use href="#n" x="357" y="874" class="w"/><use href="#n" x="383" y="874" class="w"/><use href="#n" x="410" y="874" class="w"/>
<use href="#n" x="441" y="860" class="y"/><use href="#n" x="441" y="876" class="p"/><use href="#n" x="441" y="895" class="w"/><use href="#n" x="441" y="914" class="o"/><use href="#n" x="441" y="932" class="o"/><use href="#n" x="441" y="950" class="w"/><use href="#n" x="441" y="968" class="g"/>
<use href="#n" x="88" y="896" class="w"/><use href="#n" x="88" y="918" class="g"/><use href="#n" x="88" y="939" class="y"/><use href="#n" x="88" y="961" class="w"/><use href="#n" x="119" y="919" class="G"/><use href="#n" x="119" y="941" class="g"/><use href="#n" x="119" y="959" class="w"/><use href="#n" x="150" y="891" class="w"/><use href="#n" x="150" y="908" class="w"/><use href="#n" x="150" y="926" class="o"/><use href="#n" x="150" y="946" class="o"/><use href="#n" x="180" y="892" class="w"/><use href="#n" x="180" y="908" class="w"/><use href="#n" x="180" y="923" class="y"/><use href="#n" x="180" y="940" class="o"/><use href="#n" x="180" y="960" class="w"/><use href="#n" x="208" y="897" class="w"/><use href="#n" x="208" y="913" class="r"/><use href="#n" x="208" y="932" class="o"/><use href="#n" x="233" y="901" class="w"/><use href="#n" x="233" y="921" class="G"/><use href="#n" x="233" y="941" class="p"/><use href="#n" x="259" y="896" class="w"/><use href="#n" x="259" y="918" class="w"/><use href="#n" x="259" y="946" class="o"/><use href="#n" x="259" y="963" class="w"/><use href="#n" x="285" y="899" class="w"/><use href="#n" x="285" y="926" class="o"/><use href="#n" x="285" y="951" class="r"/><use href="#n" x="308" y="893" class="w"/><use href="#n" x="308" y="913" class="w"/><use href="#n" x="308" y="934" class="r"/><use href="#n" x="308" y="960" class="w"/><use href="#n" x="333" y="895" class="w"/><use href="#n" x="333" y="918" class="w"/><use href="#n" x="333" y="941" class="p"/><use href="#n" x="333" y="963" class="w"/><use href="#n" x="357" y="893" class="w"/><use href="#n" x="357" y="914" class="w"/><use href="#n" x="357" y="935" class="w"/><use href="#n" x="357" y="956" class="o"/><use href="#n" x="383" y="933" class="G"/><use href="#n" x="383" y="949" class="o"/><use href="#n" x="383" y="964" class="w"/><use href="#n" x="410" y="908" class="w"/><use href="#n" x="410" y="932" class="w"/><use href="#n" x="410" y="954" class="g"/>
<text x="267" y="977">Fatty Acid Oxidation</text>
</g>

<g id="m-phospholipids">
<use href="#n" x="729" y="79" class="w"/><use href="#n" x="748" y="79" class="G"/><use href="#n" x="767" y="79" class="g"/><use href="#n" x="790" y="79" class="g"/><use href="#n" x="809" y="79" class="p"/><use href="#n" x="827" y="79" class="p"/><use href="#n" x="854" y="79" class="w"/><use href="#n" x="872" y="79" class="g"/>
<use href="#n" x="729" y="93" class="L"/><use href="#n" x="748" y="93" class="g"/><use href="#n" x="767" y="93" class="p"/><use href="#n" x="790" y="93" class="w"/><use href="#n" x="809" y="93" class="g"/><use href="#n" x="827" y="93" class="g"/><use href="#n" x="854" y="93" class="y"/><use href="#n" x="872" y="93" class="g"/>
<use href="#n" x="729" y="107" class="y"/><use href="#n" x="748" y="107" class="y"/><use href="#n" x="767" y="107" class="o"/><use href="#n" x="790" y="107" class="y"/><use href="#n" x="809" y="107" class="g"/><use href="#n" x="827" y="107" class="p"/><use href="#n" x="854" y="107" class="y"/><use href="#n" x="872" y="107" class="w"/>
<use href="#n" x="729" y="121" class="g"/><use href="#n" x="748" y="121" class="o"/><use href="#n" x="767" y="121" class="o"/><use href="#n" x="790" y="121" class="o"/><use href="#n" x="809" y="121" class="y"/><use href="#n" x="827" y="121" class="L"/><use href="#n" x="854" y="121" class="w"/><use href="#n" x="872" y="121" class="w"/>
<use href="#n" x="729" y="135" class="p"/><use href="#n" x="748" y="135" class="G"/><use href="#n" x="790" y="135" class="p"/><use href="#n" x="809" y="135" class="p"/><use href="#n" x="766" y="149" class="g"/><use href="#n" x="795" y="149" class="w"/><use href="#n" x="832" y="149" class="w"/><use href="#n" x="871" y="139" class="o"/><use href="#n" x="871" y="154" class="w"/><use href="#n" x="871" y="169" class="g"/><use href="#n" x="871" y="184" class="w"/><use href="#n" x="871" y="199" class="g"/>
<use href="#n" x="730" y="163" class="y"/><use href="#n" x="749" y="163" class="p"/><use href="#n" x="766" y="163" class="y"/><use href="#n" x="794" y="163" class="w"/><use href="#n" x="813" y="163" class="o"/><use href="#n" x="832" y="163" class="G"/>
<use href="#n" x="730" y="177" class="y"/><use href="#n" x="749" y="177" class="g"/><use href="#n" x="768" y="177" class="g"/><use href="#n" x="794" y="177" class="G"/><use href="#n" x="812" y="177" class="w"/>
<use href="#n" x="730" y="190" class="y"/><use href="#n" x="749" y="190" class="w"/><use href="#n" x="768" y="190" class="y"/><use href="#n" x="794" y="190" class="w"/><use href="#n" x="812" y="190" class="y"/>
<use href="#n" x="730" y="203" class="y"/><use href="#n" x="749" y="203" class="y"/><use href="#n" x="794" y="203" class="G"/><use href="#n" x="812" y="203" class="o"/>
<use href="#n" x="730" y="222" class="g"/><use href="#n" x="763" y="224" class="g"/><use href="#n" x="790" y="224" class="g"/><use href="#n" x="815" y="224" class="y"/><use href="#n" x="851" y="223" class="R"/><use href="#n" x="874" y="223" class="p"/>
<use href="#n" x="730" y="235" class="p"/><use href="#n" x="763" y="236" class="w"/><use href="#n" x="790" y="236" class="G"/><use href="#n" x="815" y="236" class="w"/><use href="#n" x="851" y="235" class="y"/><use href="#n" x="874" y="235" class="o"/>
<use href="#n" x="730" y="248" class="g"/><use href="#n" x="763" y="248" class="y"/><use href="#n" x="790" y="248" class="o"/><use href="#n" x="815" y="248" class="w"/><use href="#n" x="851" y="247" class="p"/><use href="#n" x="874" y="247" class="L"/>
<use href="#n" x="730" y="261" class="o"/><use href="#n" x="763" y="261" class="w"/><use href="#n" x="790" y="261" class="R"/><use href="#n" x="815" y="261" class="w"/><use href="#n" x="851" y="259" class="o"/>
<text x="797" y="278">Phospholipids</text>
</g>
<g id="m-glyco">
<use href="#n" x="915" y="83" class="w"/><use href="#n" x="941" y="83" class="p"/><use href="#n" x="966" y="83" class="g"/><use href="#n" x="1001" y="83" class="o"/><use href="#n" x="1026" y="83" class="o"/><use href="#n" x="1053" y="83" class="o"/><use href="#n" x="1088" y="91" class="w"/><use href="#n" x="1121" y="83" class="p"/><use href="#n" x="1148" y="83" class="g"/>
<use href="#n" x="915" y="99" class="o"/><use href="#n" x="941" y="99" class="g"/><use href="#n" x="966" y="99" class="g"/><use href="#n" x="1001" y="99" class="r"/><use href="#n" x="1026" y="99" class="y"/><use href="#n" x="1053" y="99" class="y"/><use href="#n" x="1121" y="99" class="w"/><use href="#n" x="1148" y="99" class="w"/><use href="#n" x="1174" y="99" class="o"/>
<text x="1036" y="112">Glycosphingolipids</text>
</g>
<g id="m-sphingo">
<use href="#n" x="918" y="126" class="g"/><use href="#n" x="949" y="126" class="y"/><use href="#n" x="980" y="126" class="p"/><use href="#n" x="1011" y="126" class="p"/><use href="#n" x="918" y="143" class="g"/><use href="#n" x="949" y="143" class="g"/><use href="#n" x="980" y="143" class="g"/><use href="#n" x="1011" y="143" class="p"/><use href="#n" x="918" y="159" class="G"/><use href="#n" x="949" y="159" class="o"/><use href="#n" x="980" y="159" class="G"/><use href="#n" x="1011" y="159" class="o"/><use href="#n" x="918" y="176" class="y"/><use href="#n" x="949" y="176" class="g"/><use href="#n" x="980" y="176" class="o"/><use href="#n" x="1011" y="176" class="y"/><use href="#n" x="918" y="193" class="y"/><use href="#n" x="949" y="193" class="g"/><use href="#n" x="980" y="193" class="y"/><use href="#n" x="1011" y="193" class="L"/><use href="#n" x="1052" y="189" class="p"/>
<use href="#n" x="1093" y="130" class="o"/><use href="#n" x="1122" y="130" class="o"/><use href="#n" x="1149" y="130" class="p"/><use href="#n" x="1178" y="130" class="y"/><use href="#n" x="1093" y="144" class="g"/><use href="#n" x="1122" y="144" class="y"/><use href="#n" x="1149" y="144" class="g"/><use href="#n" x="1178" y="144" class="y"/><use href="#n" x="1093" y="160" class="g"/><use href="#n" x="1122" y="160" class="y"/><use href="#n" x="1149" y="160" class="L"/><use href="#n" x="1178" y="160" class="o"/><use href="#n" x="1093" y="176" class="o"/><use href="#n" x="1122" y="176" class="g"/><use href="#n" x="1149" y="176" class="g"/><use href="#n" x="1093" y="190" class="G"/><use href="#n" x="1122" y="190" class="y"/><use href="#n" x="1149" y="190" class="o"/>
<text x="1041" y="203">Sphingomyelins</text>
</g>
<g id="m-ceramides">
<use href="#n" x="913" y="216" class="L"/><use href="#n" x="913" y="228" class="G"/><use href="#n" x="913" y="240" class="G"/><use href="#n" x="913" y="253" class="o"/><use href="#n" x="913" y="265" class="G"/><use href="#n" x="953" y="216" class="g"/><use href="#n" x="953" y="229" class="G"/><use href="#n" x="953" y="241" class="G"/><use href="#n" x="953" y="254" class="G"/><use href="#n" x="953" y="266" class="G"/><use href="#n" x="989" y="216" class="g"/><use href="#n" x="989" y="228" class="G"/><use href="#n" x="989" y="241" class="w"/><use href="#n" x="989" y="253" class="L"/><use href="#n" x="989" y="265" class="G"/><use href="#n" x="1032" y="216" class="g"/><use href="#n" x="1032" y="228" class="G"/><use href="#n" x="1032" y="241" class="G"/><use href="#n" x="1032" y="253" class="G"/><use href="#n" x="1032" y="266" class="y"/><use href="#n" x="1069" y="216" class="w"/><use href="#n" x="1069" y="228" class="g"/><use href="#n" x="1069" y="238" class="G"/><use href="#n" x="1069" y="252" class="w"/><use href="#n" x="1069" y="265" class="w"/><use href="#n" x="1106" y="216" class="G"/><use href="#n" x="1142" y="217" class="w"/><use href="#n" x="1142" y="230" class="G"/><use href="#n" x="1142" y="243" class="y"/><use href="#n" x="1142" y="255" class="w"/><use href="#n" x="1142" y="268" class="G"/><use href="#n" x="1181" y="217" class="G"/><use href="#n" x="1181" y="235" class="o"/><use href="#n" x="1181" y="250" class="y"/><use href="#n" x="1181" y="268" class="o"/>
<text x="1041" y="277">Ceramides</text>
</g>
<g id="m-microbiome">
<use href="#n" x="728" y="301" class="G"/><use href="#n" x="759" y="299" class="w"/><use href="#n" x="791" y="299" class="g"/><use href="#n" x="823" y="299" class="y"/><use href="#n" x="791" y="323" class="w"/><use href="#n" x="823" y="324" class="G"/><use href="#n" x="791" y="347" class="G"/><use href="#n" x="823" y="349" class="y"/><use href="#n" x="728" y="373" class="w"/><use href="#n" x="759" y="372" class="w"/><use href="#n" x="791" y="371" class="p"/><use href="#n" x="823" y="373" class="o"/><use href="#n" x="728" y="397" class="w"/><use href="#n" x="759" y="396" class="L"/><use href="#n" x="791" y="396" class="o"/><use href="#n" x="823" y="398" class="w"/><use href="#n" x="728" y="420" class="p"/><use href="#n" x="759" y="420" class="w"/><use href="#n" x="791" y="420" class="g"/><use href="#n" x="823" y="423" class="o"/><use href="#n" x="728" y="445" class="w"/><use href="#n" x="759" y="445" class="w"/><use href="#n" x="791" y="444" class="p"/><use href="#n" x="823" y="447" class="w"/><use href="#n" x="728" y="469" class="p"/><use href="#n" x="759" y="469" class="p"/><use href="#n" x="791" y="469" class="w"/>
<text x="773" y="488">Microbiome</text>
</g>
<g id="m-pentose">
<use href="#n" x="861" y="437" class="w"/><use href="#n" x="885" y="434" class="w"/><use href="#n" x="885" y="461" class="w"/><use href="#n" x="861" y="482" class="w"/><use href="#n" x="885" y="497" class="w"/><use href="#n" x="861" y="509" class="w"/><use href="#n" x="861" y="529" class="w"/><use href="#n" x="898" y="522" class="w"/><use href="#n" x="885" y="541" class="w"/>
<text x="890" y="567" style="font-size:10px">Pentose Phosphate</text>
</g>
<g id="m-glycolysis">
<use href="#n" x="978" y="451" class="w"/><use href="#n" x="978" y="467" class="G"/><use href="#n" x="978" y="482" class="y"/><use href="#n" x="955" y="496" class="w"/><use href="#n" x="978" y="510" class="w"/><use href="#n" x="979" y="529" class="w"/><use href="#n" x="955" y="544" class="w"/><use href="#n" x="955" y="560" class="w"/><use href="#n" x="978" y="565" class="G"/><use href="#n" x="955" y="580" class="w"/><use href="#n" x="955" y="602" class="p"/><use href="#n" x="978" y="593" class="w"/><use href="#n" x="979" y="625" class="w"/><use href="#n" x="956" y="633" class="g"/><use href="#n" x="955" y="643" class="G"/><use href="#n" x="955" y="655" class="r"/><use href="#n" x="979" y="650" class="w"/><use href="#n" x="961" y="683" class="w"/><use href="#n" x="978" y="684" class="w"/><use href="#n" x="961" y="704" class="w"/>
<text class="m" x="967" y="672">Glycolysis</text>
</g>
<g id="m-b6"><use href="#n" x="1002" y="516" class="G"/><use href="#n" x="1002" y="534" class="w"/><use href="#n" x="1002" y="558" class="w"/><use href="#n" x="1002" y="576" class="w"/><use href="#n" x="1002" y="606" class="w"/><use href="#n" x="1002" y="630" class="w"/><text x="1002" y="641">B6</text></g>
<g id="m-b1"><use href="#n" x="1002" y="653" class="G"/><use href="#n" x="1002" y="678" class="w"/><use href="#n" x="1002" y="703" class="w"/><text x="1003" y="716">B1</text></g>
<g id="m-onecarbon">
<use href="#n" x="861" y="582" class="p"/><use href="#n" x="884" y="582" class="o"/><use href="#n" x="907" y="582" class="w"/><use href="#n" x="931" y="582" class="w"/><use href="#n" x="861" y="605" class="w"/><use href="#n" x="884" y="605" class="o"/><use href="#n" x="861" y="629" class="G"/><use href="#n" x="931" y="629" class="w"/><use href="#n" x="861" y="653" class="L"/><use href="#n" x="861" y="678" class="w"/><use href="#n" x="884" y="678" class="w"/><use href="#n" x="931" y="678" class="w"/><use href="#n" x="861" y="703" class="G"/><use href="#n" x="907" y="703" class="g"/><use href="#n" x="931" y="703" class="w"/><use href="#n" x="878" y="713" class="w"/><use href="#n" x="907" y="726" class="G"/><use href="#n" x="931" y="726" class="w"/>
<text x="899" y="739">One Carbon</text>
</g>
<g id="m-krebs">
<use href="#n" x="977" y="727" class="w"/><use href="#n" x="959" y="734" class="y"/><use href="#n" x="977" y="747" class="y"/><use href="#n" x="1000" y="734" class="g"/><use href="#n" x="948" y="751" class="y"/><use href="#n" x="1010" y="751" class="g"/><use href="#n" x="995" y="763" class="G"/><use href="#n" x="973" y="775" class="o"/><use href="#n" x="950" y="775" class="w"/><use href="#n" x="1010" y="775" class="w"/><use href="#n" x="990" y="780" class="w"/><use href="#n" x="966" y="791" class="w"/><use href="#n" x="993" y="791" class="w"/>
<text x="982" y="800">Krebs Cycle</text>
</g>
<g id="m-urea">
<use href="#n" x="1028" y="720" class="G"/><use href="#n" x="1097" y="720" class="o"/><use href="#n" x="1052" y="739" class="w"/><use href="#n" x="1075" y="739" class="o"/><use href="#n" x="1099" y="739" class="G"/><use href="#n" x="1075" y="763" class="y"/><use href="#n" x="1099" y="763" class="w"/><use href="#n" x="1028" y="776" class="p"/>
<text x="1072" y="780">Urea Cycle</text>
</g>
<g id="m-purines">
<use href="#n" x="1121" y="500" class="w"/><use href="#n" x="1050" y="506" class="w"/><use href="#n" x="1044" y="530" class="w"/><use href="#n" x="1097" y="524" class="o"/><use href="#n" x="1121" y="524" class="o"/><use href="#n" x="1144" y="524" class="w"/><use href="#n" x="1077" y="543" class="y"/><use href="#n" x="1077" y="556" class="w"/><use href="#n" x="1026" y="549" class="w"/><use href="#n" x="1050" y="549" class="w"/><use href="#n" x="1121" y="549" class="w"/><use href="#n" x="1190" y="549" class="w"/>
<use href="#n" x="1026" y="572" class="w"/><use href="#n" x="1050" y="572" class="w"/><use href="#n" x="1073" y="572" class="w"/><use href="#n" x="1097" y="572" class="w"/><use href="#n" x="1121" y="572" class="w"/><use href="#n" x="1190" y="572" class="w"/>
<use href="#n" x="1026" y="596" class="w"/><use href="#n" x="1050" y="596" class="w"/><use href="#n" x="1072" y="596" class="G"/><use href="#n" x="1097" y="596" class="w"/><use href="#n" x="1121" y="596" class="w"/><use href="#n" x="1144" y="596" class="y"/><use href="#n" x="1167" y="596" class="w"/><use href="#n" x="1190" y="596" class="w"/>
<use href="#n" x="1026" y="620" class="G"/><use href="#n" x="1050" y="620" class="G"/><use href="#n" x="1073" y="620" class="w"/><use href="#n" x="1097" y="620" class="w"/><use href="#n" x="1121" y="620" class="w"/><use href="#n" x="1144" y="620" class="w"/><use href="#n" x="1167" y="620" class="y"/><use href="#n" x="1190" y="620" class="w"/>
<use href="#n" x="1026" y="643" class="w"/><use href="#n" x="1050" y="643" class="G"/><use href="#n" x="1097" y="643" class="w"/><use href="#n" x="1121" y="643" class="L"/><use href="#n" x="1144" y="643" class="o"/><use href="#n" x="1167" y="643" class="G"/><use href="#n" x="1190" y="643" class="g"/>
<use href="#n" x="1096" y="662" class="w"/><use href="#n" x="1050" y="669" class="G"/><use href="#n" x="1121" y="669" class="y"/><use href="#n" x="1144" y="669" class="p"/><use href="#n" x="1167" y="669" class="w"/><use href="#n" x="1097" y="680" class="g"/><use href="#n" x="1121" y="680" class="G"/><use href="#n" x="1144" y="680" class="y"/><use href="#n" x="1166" y="680" class="w"/>
<text class="m" x="1118" y="691">Purines</text>
</g>
<g id="m-pyrimidines">
<use href="#n" x="754" y="509" class="w"/><use href="#n" x="790" y="509" class="y"/><use href="#n" x="814" y="509" class="G"/><use href="#n" x="837" y="509" class="w"/><use href="#n" x="775" y="520" class="G"/><use href="#n" x="801" y="534" class="w"/><use href="#n" x="754" y="534" class="G"/><use href="#n" x="778" y="534" class="w"/><use href="#n" x="731" y="534" class="w"/><use href="#n" x="825" y="534" class="w"/><use href="#n" x="731" y="558" class="w"/><use href="#n" x="754" y="558" class="w"/><use href="#n" x="801" y="558" class="w"/><use href="#n" x="825" y="558" class="w"/><use href="#n" x="731" y="582" class="w"/><use href="#n" x="754" y="582" class="w"/><use href="#n" x="825" y="582" class="w"/><use href="#n" x="731" y="606" class="w"/><use href="#n" x="754" y="606" class="w"/><use href="#n" x="778" y="606" class="w"/><use href="#n" x="801" y="606" class="w"/><use href="#n" x="825" y="606" class="w"/><use href="#n" x="731" y="629" class="w"/><use href="#n" x="754" y="629" class="g"/><use href="#n" x="778" y="629" class="o"/><use href="#n" x="801" y="629" class="w"/><use href="#n" x="825" y="629" class="w"/><use href="#n" x="731" y="653" class="w"/><use href="#n" x="778" y="653" class="o"/><use href="#n" x="754" y="660" class="G"/><use href="#n" x="825" y="653" class="w"/><use href="#n" x="759" y="674" class="w"/><use href="#n" x="786" y="674" class="w"/><use href="#n" x="814" y="674" class="w"/><use href="#n" x="732" y="692" class="w"/><use href="#n" x="821" y="692" class="o"/><use href="#n" x="732" y="711" class="w"/><use href="#n" x="780" y="711" class="w"/><use href="#n" x="821" y="711" class="w"/>
<text x="776" y="727">Pyrimidines</text>
</g>
<g id="m-small-top">
<use href="#n" x="984" y="287" class="G"/><use href="#n" x="984" y="297" class="y"/><use href="#n" x="1096" y="287" class="g"/><use href="#n" x="1096" y="297" class="y"/><use href="#n" x="1132" y="287" class="G"/><use href="#n" x="1132" y="297" class="g"/><use href="#n" x="1176" y="288" class="o"/><use href="#n" x="1176" y="297" class="L"/><text x="1040" y="294">Cardiolipin</text>
<use href="#n" x="1098" y="309" class="p"/><use href="#n" x="1132" y="309" class="w"/><use href="#n" x="1165" y="309" class="y"/><use href="#n" x="1192" y="309" class="p"/><text x="1146" y="322">Amino Sugars</text>
<use href="#n" x="908" y="293" class="w"/><use href="#n" x="932" y="293" class="G"/><use href="#n" x="954" y="293" class="g"/><use href="#n" x="908" y="317" class="y"/><use href="#n" x="954" y="316" class="g"/><use href="#n" x="908" y="342" class="y"/><use href="#n" x="932" y="342" class="G"/><text x="928" y="354">Bile Acids</text>
<use href="#n" x="981" y="316" class="w"/><use href="#n" x="1011" y="316" class="w"/><use href="#n" x="1041" y="316" class="o"/><use href="#n" x="1071" y="316" class="w"/><use href="#n" x="981" y="341" class="w"/><use href="#n" x="1011" y="341" class="w"/><use href="#n" x="1041" y="341" class="w"/><use href="#n" x="1071" y="341" class="y"/><text x="1022" y="354">Gonadal Steroids</text>
<use href="#n" x="861" y="317" class="o"/><use href="#n" x="885" y="317" class="w"/><use href="#n" x="861" y="341" class="y"/><use href="#n" x="885" y="341" class="w"/><text x="872" y="354">CoQ</text>
</g>
<g id="m-cholesterol">
<use href="#n" x="861" y="366" class="w"/><use href="#n" x="861" y="389" class="w"/><use href="#n" x="861" y="413" class="w"/><use href="#n" x="908" y="364" class="w"/><use href="#n" x="932" y="366" class="L"/><use href="#n" x="955" y="368" class="y"/><use href="#n" x="979" y="366" class="o"/><use href="#n" x="1002" y="366" class="g"/><use href="#n" x="1027" y="366" class="G"/><use href="#n" x="1049" y="366" class="w"/><use href="#n" x="1069" y="366" class="p"/><use href="#n" x="974" y="382" class="w"/><use href="#n" x="955" y="389" class="o"/><use href="#n" x="1002" y="389" class="w"/><use href="#n" x="1027" y="382" class="G"/><use href="#n" x="1050" y="380" class="w"/><use href="#n" x="1027" y="397" class="r"/><use href="#n" x="1069" y="397" class="R"/><use href="#n" x="982" y="400" class="y"/><use href="#n" x="955" y="406" class="G"/><use href="#n" x="1027" y="413" class="G"/><use href="#n" x="1069" y="413" class="y"/><use href="#n" x="908" y="413" class="w"/>
<text x="957" y="423">Cholesterol, Non-Gonadal Steroids</text>
</g>
<g id="m-cbs"><use href="#n" x="1100" y="363" class="y"/><use href="#n" x="1100" y="378" class="g"/><use href="#n" x="1100" y="393" class="o"/><use href="#n" x="1100" y="408" class="y"/><text x="1100" y="427" style="font-size:8px">CBs</text></g>
<g id="m-eicosanoids">
<use href="#n" x="1144" y="367" class="p"/><use href="#n" x="1144" y="333" class="R"/><use href="#n" x="1168" y="333" class="w"/><use href="#n" x="1189" y="333" class="w"/><use href="#n" x="1213" y="338" class="w"/><use href="#n" x="1240" y="335" class="r"/><use href="#n" x="1120" y="344" class="w"/><use href="#n" x="1168" y="355" class="p"/><use href="#n" x="1189" y="360" class="o"/><use href="#n" x="1213" y="360" class="y"/><use href="#n" x="1240" y="352" class="o"/><use href="#n" x="1168" y="379" class="w"/><use href="#n" x="1189" y="378" class="r"/><use href="#n" x="1134" y="388" class="r"/><use href="#n" x="1189" y="395" class="r"/><use href="#n" x="1189" y="412" class="y"/><use href="#n" x="1213" y="412" class="y"/><use href="#n" x="1144" y="403" class="w"/><use href="#n" x="1168" y="403" class="w"/><use href="#n" x="1120" y="430" class="G"/><use href="#n" x="1144" y="430" class="w"/><use href="#n" x="1166" y="430" class="w"/><use href="#n" x="1189" y="430" class="w"/><use href="#n" x="1213" y="430" class="w"/><use href="#n" x="1237" y="430" class="r"/><use href="#n" x="1256" y="430" class="w"/>
<text x="1189" y="442">Eicosanoids</text>
</g>
<g id="m-right">
<use href="#n" x="1026" y="452" class="g"/><use href="#n" x="1050" y="452" class="w"/><use href="#n" x="1073" y="452" class="o"/><use href="#n" x="1097" y="452" class="r"/><use href="#n" x="1045" y="475" class="w"/><use href="#n" x="1068" y="475" class="p"/><text x="1059" y="485">Peroxisomes</text>
<use href="#n" x="1133" y="463" class="w"/><use href="#n" x="1162" y="463" class="w"/><text x="1151" y="476" style="font-size:8.5px">Biopterin</text>
<use href="#n" x="1228" y="454" class="w"/><text x="1230" y="465" style="font-size:8.5px">Thyroid</text>
<use href="#n" x="1211" y="482" class="y"/><use href="#n" x="1247" y="482" class="p"/><use href="#n" x="1211" y="497" class="R"/><use href="#n" x="1249" y="497" class="y"/><use href="#n" x="1230" y="504" class="y"/><use href="#n" x="1211" y="512" class="o"/><use href="#n" x="1249" y="512" class="o"/><text x="1231" y="526">GABA, Glu, Pro</text>
<use href="#n" x="1211" y="536" class="w"/><use href="#n" x="1252" y="536" class="o"/><use href="#n" x="1212" y="551" class="g"/><use href="#n" x="1233" y="551" class="w"/><use href="#n" x="1252" y="551" class="g"/><text x="1232" y="563" style="font-size:8.5px">Histamine,</text><text x="1232" y="572" style="font-size:8.5px">Carnosine</text>
<use href="#n" x="1217" y="588" class="w"/><use href="#n" x="1243" y="588" class="G"/><use href="#n" x="1217" y="601" class="w"/><use href="#n" x="1243" y="601" class="L"/><text x="1231" y="615">Lysine</text>
<use href="#n" x="1218" y="628" class="y"/><use href="#n" x="1248" y="628" class="o"/><use href="#n" x="1218" y="641" class="p"/><use href="#n" x="1248" y="641" class="w"/><use href="#n" x="1218" y="655" class="o"/><use href="#n" x="1248" y="654" class="y"/><use href="#n" x="1218" y="668" class="w"/><use href="#n" x="1248" y="668" class="r"/><text x="1234" y="683">Amino Acid</text>
<use href="#n" x="1214" y="698" class="w"/><use href="#n" x="1234" y="698" class="w"/><use href="#n" x="1254" y="698" class="o"/><use href="#n" x="1214" y="718" class="G"/><use href="#n" x="1234" y="720" class="L"/><use href="#n" x="1254" y="717" class="w"/><use href="#n" x="1214" y="736" class="w"/><use href="#n" x="1254" y="736" class="w"/><use href="#n" x="1234" y="743" class="w"/><use href="#n" x="1214" y="755" class="g"/><use href="#n" x="1254" y="755" class="w"/><use href="#n" x="1234" y="765" class="p"/><use href="#n" x="1214" y="774" class="g"/><use href="#n" x="1254" y="774" class="p"/><text x="1234" y="785" style="font-size:9px">Neurotransmitters</text><text x="1240" y="794" style="font-size:9px">+ Bioamines</text>
<use href="#n" x="1166" y="702" class="p"/><use href="#n" x="1189" y="702" class="w"/><use href="#n" x="1189" y="726" class="G"/><text x="1178" y="717">B2</text>
<use href="#n" x="1166" y="753" class="w"/><use href="#n" x="1189" y="751" class="w"/><use href="#n" x="1166" y="777" class="G"/><use href="#n" x="1189" y="776" class="w"/><use href="#n" x="1166" y="799" class="w"/><use href="#n" x="1189" y="799" class="g"/><use href="#n" x="1166" y="823" class="o"/><use href="#n" x="1189" y="824" class="w"/><text x="1177" y="833">B3</text>
<use href="#n" x="1034" y="797" class="L"/><use href="#n" x="1056" y="797" class="G"/><use href="#n" x="1078" y="797" class="w"/><use href="#n" x="1099" y="797" class="w"/><use href="#n" x="1121" y="797" class="G"/><use href="#n" x="1142" y="797" class="p"/><use href="#n" x="1066" y="807" class="G"/><use href="#n" x="1134" y="807" class="G"/><use href="#n" x="1034" y="819" class="g"/><use href="#n" x="1054" y="819" class="g"/><use href="#n" x="1074" y="819" class="G"/><use href="#n" x="1094" y="819" class="G"/><use href="#n" x="1114" y="819" class="g"/><use href="#n" x="1139" y="819" class="y"/><text x="1076" y="833" style="font-size:8.5px">Vitamins A, C, D, E, K</text>
<use href="#n" x="1217" y="806" class="w"/><use href="#n" x="1250" y="806" class="y"/><use href="#n" x="1217" y="821" class="w"/><use href="#n" x="1250" y="821" class="o"/><use href="#n" x="1217" y="836" class="G"/><use href="#n" x="1250" y="836" class="w"/><use href="#n" x="1217" y="851" class="G"/><use href="#n" x="1250" y="853" class="w"/><use href="#n" x="1217" y="866" class="G"/><use href="#n" x="1250" y="866" class="w"/><text x="1237" y="877" style="font-size:9px">Tryptophan,</text><text x="1237" y="886" style="font-size:9px">Kynurenine</text>
<use href="#n" x="1112" y="850" class="o"/><use href="#n" x="1134" y="850" class="o"/><use href="#n" x="1112" y="868" class="G"/><use href="#n" x="1134" y="868" class="w"/><use href="#n" x="1112" y="884" class="G"/><use href="#n" x="1135" y="884" class="y"/><use href="#n" x="1123" y="899" class="o"/><use href="#n" x="1123" y="914" class="w"/><use href="#n" x="1123" y="928" class="p"/><use href="#n" x="1123" y="943" class="w"/><use href="#n" x="1123" y="957" class="p"/><text x="1122" y="976">BCAA</text>
<use href="#n" x="1159" y="846" class="G"/><use href="#n" x="1193" y="846" class="p"/><use href="#n" x="1159" y="866" class="w"/><use href="#n" x="1176" y="866" class="w"/><use href="#n" x="1194" y="866" class="o"/><use href="#n" x="1176" y="882" class="p"/><use href="#n" x="1158" y="896" class="o"/><use href="#n" x="1196" y="897" class="o"/><text x="1177" y="907">Polyamines</text>
<use href="#n" x="1162" y="923" class="y"/><use href="#n" x="1191" y="918" class="o"/><use href="#n" x="1163" y="936" class="g"/><use href="#n" x="1191" y="932" class="o"/><use href="#n" x="1163" y="949" class="G"/><use href="#n" x="1191" y="946" class="g"/><use href="#n" x="1162" y="962" class="y"/><use href="#n" x="1191" y="960" class="y"/><text x="1176" y="973">Plasmalogens</text>
<use href="#n" x="1241" y="910" class="w"/><use href="#n" x="1227" y="926" class="w"/><use href="#n" x="1251" y="936" class="o"/><use href="#n" x="1229" y="945" class="p"/><text x="1236" y="958">Peptides</text>
</g>
<g id="m-bottom-left">
<use href="#n" x="738" y="753" class="w"/><use href="#n" x="721" y="761" class="g"/><use href="#n" x="738" y="770" class="w"/><use href="#n" x="721" y="779" class="o"/><use href="#n" x="738" y="788" class="g"/><use href="#n" x="721" y="798" class="w"/><use href="#n" x="738" y="805" class="w"/><use href="#n" x="721" y="819" class="w"/><use href="#n" x="738" y="824" class="w"/><text x="730" y="834" style="font-size:8.5px">ROS, NO</text>
<use href="#n" x="767" y="751" class="o"/><use href="#n" x="788" y="755" class="w"/><use href="#n" x="812" y="751" class="p"/><use href="#n" x="837" y="751" class="g"/><use href="#n" x="861" y="751" class="o"/><use href="#n" x="883" y="752" class="w"/><use href="#n" x="767" y="775" class="w"/><use href="#n" x="788" y="775" class="p"/><use href="#n" x="812" y="775" class="w"/><use href="#n" x="837" y="775" class="p"/><use href="#n" x="861" y="775" class="y"/><use href="#n" x="883" y="775" class="o"/><use href="#n" x="788" y="787" class="o"/><use href="#n" x="812" y="787" class="y"/><use href="#n" x="883" y="789" class="g"/><use href="#n" x="767" y="799" class="w"/><use href="#n" x="788" y="799" class="L"/><use href="#n" x="812" y="799" class="w"/><use href="#n" x="837" y="799" class="p"/><use href="#n" x="861" y="799" class="G"/><use href="#n" x="883" y="803" class="g"/><use href="#n" x="767" y="812" class="w"/><use href="#n" x="767" y="824" class="w"/><use href="#n" x="788" y="824" class="w"/><use href="#n" x="812" y="824" class="G"/><use href="#n" x="837" y="824" class="w"/><use href="#n" x="861" y="824" class="p"/><use href="#n" x="883" y="824" class="G"/><text x="829" y="836" style="font-size:8.5px">SAM, SAH, Glutathione</text>
<use href="#n" x="913" y="759" class="w"/><use href="#n" x="913" y="782" class="w"/><use href="#n" x="913" y="805" class="w"/><text x="911" y="822">B12</text>
</g>
<g id="m-fatty-acid">
<use href="#n" x="858" y="850" class="w"/><use href="#n" x="922" y="849" class="w"/><use href="#n" x="731" y="871" class="G"/><use href="#n" x="762" y="871" class="w"/><use href="#n" x="792" y="871" class="w"/><use href="#n" x="822" y="871" class="w"/><use href="#n" x="850" y="871" class="p"/><use href="#n" x="875" y="871" class="p"/><use href="#n" x="900" y="871" class="p"/><use href="#n" x="926" y="871" class="r"/><use href="#n" x="949" y="871" class="w"/><use href="#n" x="974" y="871" class="g"/><use href="#n" x="997" y="871" class="w"/><use href="#n" x="1024" y="871" class="w"/><use href="#n" x="1050" y="871" class="w"/>
<use href="#n" x="731" y="893" class="w"/><use href="#n" x="731" y="915" class="G"/><use href="#n" x="731" y="936" class="p"/><use href="#n" x="731" y="958" class="w"/><use href="#n" x="762" y="916" class="o"/><use href="#n" x="762" y="938" class="y"/><use href="#n" x="762" y="955" class="w"/><use href="#n" x="792" y="888" class="w"/><use href="#n" x="792" y="905" class="w"/><use href="#n" x="792" y="923" class="p"/><use href="#n" x="792" y="942" class="o"/><use href="#n" x="822" y="888" class="w"/><use href="#n" x="822" y="905" class="w"/><use href="#n" x="822" y="920" class="p"/><use href="#n" x="822" y="936" class="o"/><use href="#n" x="822" y="956" class="w"/><use href="#n" x="850" y="894" class="w"/><use href="#n" x="850" y="911" class="o"/><use href="#n" x="850" y="930" class="o"/><use href="#n" x="875" y="897" class="w"/><use href="#n" x="875" y="918" class="o"/><use href="#n" x="875" y="938" class="o"/><use href="#n" x="900" y="893" class="w"/><use href="#n" x="900" y="916" class="w"/><use href="#n" x="900" y="942" class="R"/><use href="#n" x="900" y="960" class="w"/><use href="#n" x="926" y="897" class="w"/><use href="#n" x="926" y="923" class="o"/><use href="#n" x="926" y="947" class="G"/><use href="#n" x="949" y="890" class="w"/><use href="#n" x="949" y="911" class="w"/><use href="#n" x="949" y="932" class="y"/><use href="#n" x="949" y="956" class="w"/><use href="#n" x="974" y="893" class="w"/><use href="#n" x="974" y="915" class="w"/><use href="#n" x="974" y="938" class="g"/><use href="#n" x="974" y="960" class="w"/><use href="#n" x="997" y="932" class="w"/><use href="#n" x="997" y="953" class="o"/><use href="#n" x="1024" y="932" class="y"/><use href="#n" x="1024" y="946" class="g"/><use href="#n" x="1024" y="961" class="w"/><use href="#n" x="1050" y="904" class="w"/><use href="#n" x="1050" y="930" class="w"/><use href="#n" x="1050" y="951" class="g"/>
<use href="#n" x="1080" y="857" class="p"/><use href="#n" x="1080" y="874" class="y"/><use href="#n" x="1080" y="893" class="w"/><use href="#n" x="1080" y="911" class="o"/><use href="#n" x="1080" y="929" class="G"/><use href="#n" x="1080" y="948" class="w"/><use href="#n" x="1080" y="965" class="G"/>
<text x="909" y="973">Fatty Acid Oxidation</text>
</g>

<g id="badges" fill="#000">
<circle cx="199" cy="197" r="27"/><circle cx="412" cy="152" r="27"/><circle cx="472" cy="249" r="27"/><circle cx="283" cy="302" r="27"/><circle cx="108" cy="341" r="27"/><circle cx="254" cy="390" r="27"/><circle cx="593" cy="390" r="27"/><circle cx="122" cy="568" r="27"/><circle cx="518" cy="556" r="27"/><circle cx="264" cy="662" r="27"/><circle cx="385" cy="897" r="27"/>
<circle cx="837" cy="193" r="27"/><circle cx="1050" cy="150" r="27"/><circle cx="1110" cy="246" r="27"/><circle cx="747" cy="338" r="27"/><circle cx="893" cy="388" r="27"/><circle cx="1232" cy="390" r="27"/><circle cx="789" cy="583" r="27"/><circle cx="902" cy="636" r="27"/><circle cx="1156" cy="555" r="27"/><circle cx="1018" cy="904" r="27"/>
<text class="pc" x="199" y="207">24%</text><text class="pc" x="412" y="162">6%</text><text class="pc" x="472" y="259">5%</text><text class="pc" x="283" y="312">7%</text><text class="pc" x="108" y="351">2%</text><text class="pc" x="254" y="400">4%</text><text class="pc" x="593" y="400">4%</text><text class="pc" x="122" y="578">4%</text><text class="pc" x="518" y="566">7%</text><text class="pc" x="264" y="672">1%</text><text class="pc" x="385" y="907">10%</text>
<text class="pc" x="837" y="203">16%</text><text class="pc" x="1050" y="160">5%</text><text class="pc" x="1110" y="256">12%</text><text class="pc" x="747" y="348">4%</text><text class="pc" x="893" y="398">8%</text><text class="pc" x="1232" y="400">10%</text><text class="pc" x="789" y="593">2%</text><text class="pc" x="902" y="646">4%</text><text class="pc" x="1156" y="565">7%</text><text class="pc" x="1018" y="914">12%</text>
</g>
<g id="legend-f">
<rect x="580" y="106" width="23" height="162" fill="url(#zs)" stroke="#111" stroke-width="1"/>
<text class="lg" x="592" y="104">High</text><text class="lg" x="611" y="119">1</text><text class="lg" x="613" y="266">-1</text><text class="lg" x="592" y="281">Low</text><text class="lg" transform="translate(619,186) rotate(-90)">Z Score</text>
</g>
<g id="legend-m">
<rect x="1221" y="119" width="23" height="161" fill="url(#zs)" stroke="#111" stroke-width="1"/>
<text class="lg" x="1233" y="117">High</text><text class="lg" x="1252" y="132">1</text><text class="lg" x="1254" y="278">-1</text><text class="lg" x="1233" y="293">Low</text><text class="lg" transform="translate(1260,199) rotate(-90)">Z Score</text>
</g>
</svg>
